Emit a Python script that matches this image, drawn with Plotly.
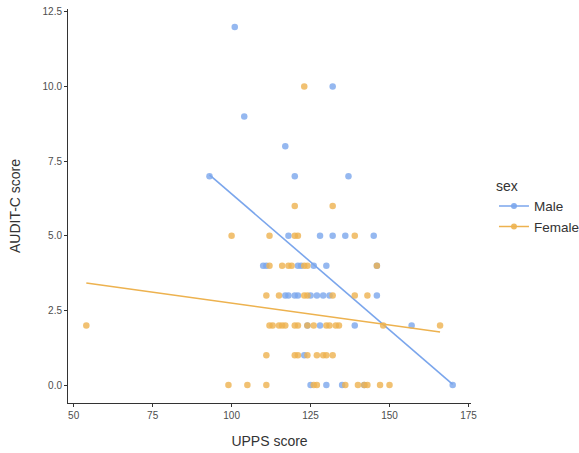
import numpy as np
import plotly.graph_objects as go

# UPPS (x) and AUDIT-C (y) values
male_upps = [125, 130, 135, 142, 170,
             123,
             124, 128, 139, 157,
             117, 118, 120, 121, 125, 127, 129, 131, 146,
             110, 111, 121, 122, 126, 130, 146,
             118, 128, 132, 136, 145,
             93, 120, 137,
             117,
             104,
             132,
             101]
male_audit = [0, 0, 0, 0, 0,
              1,
              2, 2, 2, 2,
              3, 3, 3, 3, 3, 3, 3, 3, 3,
              4, 4, 4, 4, 4, 4, 4,
              5, 5, 5, 5, 5,
              7, 7, 7,
              8,
              9,
              10,
              12]

female_upps = [99, 105, 111, 126, 127, 136, 140, 142, 143, 147, 150,
               111, 120, 121, 124, 127, 129, 130, 132,
               54, 112, 113, 115, 116, 117, 120, 121, 124, 126, 130, 131, 133, 134, 148, 166,
               111, 115, 123, 124, 132, 139, 143,
               112, 116, 118, 119, 123, 124, 146,
               100, 112, 120, 121, 139,
               120, 132,
               123]
female_audit = [0] * 11 + [1] * 8 + [2] * 16 + [3] * 7 + [4] * 7 + [5] * 5 + [6] * 2 + [10]

x_ticks = [50, 75, 100, 125, 150, 175]
y_ticks = [0, 2.5, 5, 7.5, 10, 12.5]

male_color = "#7BA6EC"
female_color = "#EDB24F"

fig = go.Figure()

groups = [("Male", male_upps, male_audit, male_color),
          ("Female", female_upps, female_audit, female_color)]

for name, xs, ys, col in groups:
    xa = np.array(xs, dtype=float)
    ya = np.array(ys, dtype=float)
    fig.add_trace(go.Scatter(
        x=xa, y=ya, mode="markers", name=name, legendgroup=name,
        showlegend=False,
        marker=dict(color=col, size=6.5, opacity=0.8, line=dict(width=0)),
    ))
    slope, intercept = np.polyfit(xa, ya, 1)
    lx = np.array([xa.min(), xa.max()])
    fig.add_trace(go.Scatter(
        x=lx, y=intercept + slope * lx, mode="lines", name=name,
        legendgroup=name, showlegend=False,
        line=dict(color=col, width=1.6),
    ))

# legend entries (line + point key, as in the reference)
for name, xs, ys, col in groups:
    fig.add_trace(go.Scatter(
        x=[None], y=[None], mode="lines+markers", name=name, legendgroup=name,
        showlegend=True,
        line=dict(color=col, width=1.6),
        marker=dict(color=col, size=6, opacity=0.9),
    ))

axis_font = dict(family="Liberation Sans, Arial, sans-serif", size=10, color="#4d4d4d")

fig.update_layout(
    width=579, height=453,
    margin=dict(l=68, r=108, t=9, b=50, autoexpand=False),
    plot_bgcolor="white", paper_bgcolor="white",
    font=dict(family="Liberation Sans, Arial, sans-serif", color="#333333"),
    xaxis=dict(
        range=[48.2, 175.8], tickvals=x_ticks, ticktext=[str(v) for v in x_ticks],
        showgrid=False, zeroline=False, showline=True, linecolor="#333333", linewidth=1,
        ticks="outside", ticklen=3, tickcolor="#333333", tickfont=axis_font,
        automargin=False,
        title=dict(text="UPPS score", font=dict(size=14, color="#333333"), standoff=16),
    ),
    yaxis=dict(
        range=[-0.6, 12.6], tickvals=y_ticks, ticktext=[f"{v:.1f}" for v in y_ticks],
        showgrid=False, zeroline=False, showline=True, linecolor="#333333", linewidth=1,
        ticks="outside", ticklen=3, tickcolor="#333333", tickfont=axis_font,
        automargin=False,
        title=dict(text="AUDIT-C score", font=dict(size=14, color="#333333"), standoff=18),
    ),
    legend=dict(
        x=1.057, y=0.585, xanchor="left", yanchor="top",
        title=dict(text="sex", font=dict(size=14, color="#333333")),
        font=dict(size=13.5, color="#333333"),
        tracegroupgap=0, itemwidth=30,
    ),
)

# remove the default 8px page margin so the figure fills the window exactly
fig.write_html("out.html", config={"displayModeBar": False},
               post_script="document.body.style.margin='0px';")
